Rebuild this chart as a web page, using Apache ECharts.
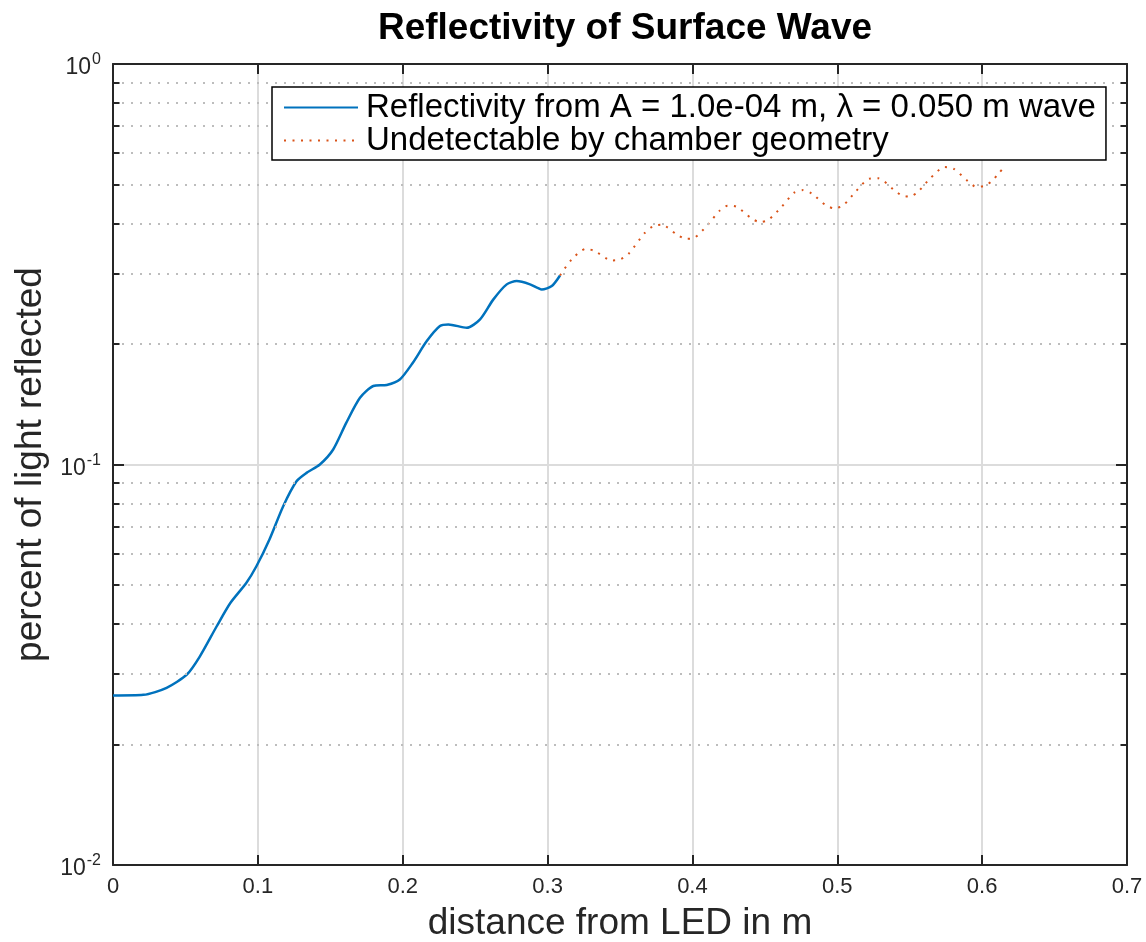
<!DOCTYPE html>
<html>
<head>
<meta charset="utf-8">
<title>Reflectivity of Surface Wave</title>
<script src="https://cdn.jsdelivr.net/npm/echarts@6/dist/echarts.min.js"></script>
<style>
  html, body { margin: 0; padding: 0; background: #fff; }
  #chart { width: 1146px; height: 942px; }
</style>
</head>
<body>
<div id="chart"></div>
<script>
// measured curve, detectable part (distance in m, fraction reflected)
var blueX = [0, 0.021, 0.037, 0.051, 0.060, 0.0715, 0.081, 0.092, 0.099, 0.108, 0.1175,
  0.1267, 0.1336, 0.1428, 0.152, 0.161, 0.1705, 0.1797, 0.189, 0.198, 0.207, 0.2165,
  0.2257, 0.2315, 0.2442, 0.2534, 0.2626, 0.2718, 0.2787, 0.2879, 0.296, 0.3029, 0.3086]
var blueY = [0.0265, 0.0266, 0.0277, 0.0299, 0.0332, 0.0394, 0.0451, 0.0506, 0.0557, 0.065, 0.0787,
  0.0908, 0.0953, 0.1, 0.109, 0.127, 0.1467, 0.157, 0.158, 0.163, 0.1795, 0.203,
  0.2216, 0.2238, 0.2195, 0.2303, 0.2584, 0.2817, 0.287, 0.2817, 0.2736, 0.279, 0.2965]

// part beyond the chamber geometry
var redX = [0.3086, 0.3166, 0.3265, 0.3327, 0.3442, 0.35, 0.3557, 0.3672, 0.373, 0.3787, 0.3891,
  0.3953, 0.4012, 0.4104, 0.419, 0.4243, 0.4305, 0.4408, 0.4466, 0.4524, 0.4616, 0.4703,
  0.4765, 0.4823, 0.4922, 0.498, 0.5042, 0.513, 0.5222, 0.5284, 0.5388, 0.5441, 0.5498,
  0.5556, 0.5641, 0.574, 0.5802, 0.5901, 0.5957, 0.6014, 0.6067, 0.6113, 0.6152]
var redY = [0.2965, 0.325, 0.3457, 0.341, 0.3233, 0.325, 0.335, 0.379, 0.3938, 0.397, 0.3755,
  0.366, 0.368, 0.396, 0.431, 0.4428, 0.44, 0.4116, 0.403, 0.408, 0.44, 0.4773,
  0.4844, 0.475, 0.4436, 0.436, 0.444, 0.4817, 0.5173, 0.5183, 0.486, 0.4708, 0.4664,
  0.479, 0.518, 0.553, 0.548, 0.51, 0.494, 0.496, 0.51, 0.5325, 0.553]

var blueName = 'Reflectivity from A = 1.0e-04 m, λ = 0.050 m wave'
var redName = 'Undetectable by chamber geometry'

// minor log ticks (2..9 of each decade)
var minorTicks = [0.02, 0.03, 0.04, 0.05, 0.06, 0.07, 0.08, 0.09,
  0.2, 0.3, 0.4, 0.5, 0.6, 0.7, 0.8, 0.9]

var FONT = '"Liberation Sans", Arial, Helvetica, sans-serif'
var AXIS_COLOR = '#262626'

var blueData = []
for (var i = 0; i < blueX.length; i++) blueData.push([blueX[i], blueY[i]])
var redData = []
for (var j = 0; j < redX.length; j++) redData.push([redX[j], redY[j]])

var minorGrid = []
var minorTickMarks = []
for (var k = 0; k < minorTicks.length; k++) {
  var v = minorTicks[k]
  minorGrid.push({ yAxis: v })
  minorTickMarks.push([{ coord: [0, v] }, { coord: [0.0045, v] }])
  minorTickMarks.push([{ coord: [0.7, v] }, { coord: [0.6955, v] }])
}

var xAxisBase = {
  type: 'value',
  min: 0,
  max: 0.7,
  interval: 0.1,
  axisLine: { show: true, onZero: false, lineStyle: { color: AXIS_COLOR, width: 2 } },
  axisTick: { show: true, inside: true, length: 10, lineStyle: { color: AXIS_COLOR, width: 2 } }
}
var yAxisBase = {
  type: 'log',
  logBase: 10,
  min: 0.01,
  max: 1,
  axisLine: { show: true, onZero: false, lineStyle: { color: AXIS_COLOR, width: 2 } },
  axisTick: { show: true, inside: true, length: 11, lineStyle: { color: AXIS_COLOR, width: 2 } }
}

var option = {
  backgroundColor: '#fff',
  animation: false,
  textStyle: { fontFamily: FONT },
  title: {
    text: 'Reflectivity of Surface Wave',
    left: 620,
    top: 5,
    textAlign: 'center',
    textStyle: { fontSize: 37, fontWeight: 'bold', color: '#000', fontFamily: FONT }
  },
  grid: { left: 113, right: 19, top: 64, bottom: 77, containLabel: false, outerBoundsMode: 'none' },
  legend: {
    data: [blueName, redName],
    orient: 'vertical',
    left: 272,
    top: 87,
    padding: [4, 10, 3, 11],
    itemGap: 0,
    itemWidth: 74,
    itemHeight: 14,
    backgroundColor: '#fff',
    borderColor: '#000',
    borderWidth: 1.5,
    z: 10,
    itemStyle: { opacity: 0 },
    textStyle: { fontSize: 33, color: '#000', fontFamily: FONT, lineHeight: 33, padding: [0, 0, 0, 3] }
  },
  xAxis: [
    Object.assign({}, xAxisBase, {
      position: 'bottom',
      name: 'distance from LED in m',
      nameLocation: 'middle',
      nameGap: 40,
      nameTextStyle: { fontSize: 37, color: AXIS_COLOR, fontFamily: FONT },
      axisLabel: {
        margin: 11,
        fontSize: 22,
        color: AXIS_COLOR,
        fontFamily: FONT,
        formatter: function (val) { return val === 0 ? '0' : val.toFixed(1) }
      },
      splitLine: { show: true, lineStyle: { color: '#dcdcdc', width: 2 } }
    }),
    Object.assign({}, xAxisBase, {
      position: 'top',
      axisLabel: { show: false },
      splitLine: { show: false }
    })
  ],
  yAxis: [
    Object.assign({}, yAxisBase, {
      position: 'left',
      name: 'percent of light reflected',
      nameLocation: 'middle',
      nameGap: 61,
      nameTextStyle: { fontSize: 37, color: AXIS_COLOR, fontFamily: FONT },
      axisLabel: {
        margin: 12,
        color: AXIS_COLOR,
        fontFamily: FONT,
        formatter: function (val) {
          var e = Math.round(Math.log10(val))
          return '{b|10}{s|' + e + '}'
        },
        rich: {
          b: { fontSize: 23, color: AXIS_COLOR, fontFamily: FONT, padding: [8, 0, 0, 0] },
          s: { fontSize: 16, color: AXIS_COLOR, fontFamily: FONT, padding: [0, 0, 8, 1] }
        }
      },
      splitLine: { show: true, lineStyle: { color: '#dcdcdc', width: 2 } }
    }),
    Object.assign({}, yAxisBase, {
      position: 'right',
      axisLabel: { show: false },
      splitLine: { show: false }
    })
  ],
  series: [
    {
      name: 'minor grid',
      type: 'line',
      data: [],
      z: 1,
      silent: true,
      markLine: {
        silent: true,
        symbol: ['none', 'none'],
        label: { show: false },
        lineStyle: { color: '#bdbdbd', width: 2, type: [2, 7] },
        data: minorGrid
      }
    },
    {
      name: 'minor ticks',
      type: 'line',
      data: [],
      z: 5,
      silent: true,
      markLine: {
        silent: true,
        symbol: ['none', 'none'],
        label: { show: false },
        lineStyle: { color: AXIS_COLOR, width: 2, type: 'solid' },
        data: minorTickMarks
      }
    },
    {
      name: blueName,
      type: 'line',
      data: blueData,
      smooth: 0.25,
      showSymbol: false,
      symbol: 'none',
      z: 3,
      lineStyle: { color: '#0072BD', width: 2.5 },
      itemStyle: { color: '#0072BD' }
    },
    {
      name: redName,
      type: 'line',
      data: redData,
      smooth: 0.25,
      showSymbol: false,
      symbol: 'none',
      z: 3,
      lineStyle: { color: '#D95319', width: 2, type: [2, 6.5] },
      itemStyle: { color: '#D95319' }
    }
  ]
}

var myChart = echarts.init(document.getElementById('chart'), null, { renderer: 'canvas' })
myChart.setOption(option)
</script>
</body>
</html>
